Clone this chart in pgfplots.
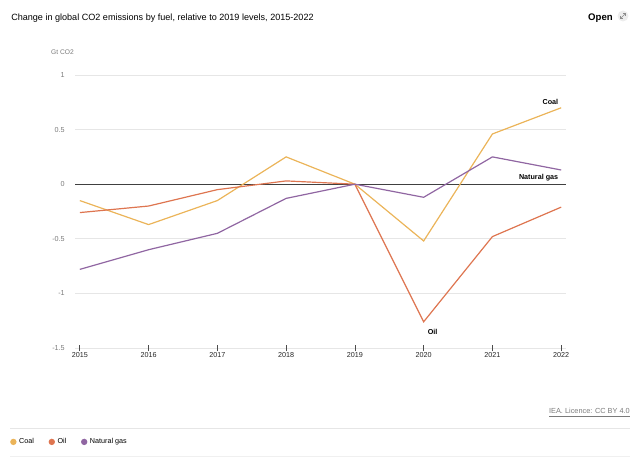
\documentclass[border=0pt]{standalone}
\usepackage{pgfplots}
\pgfplotsset{compat=1.18}
\usepackage{fontspec}
\setmainfont{Liberation Sans}
\definecolor{coal}{HTML}{EBB459}
\definecolor{oil}{HTML}{DE7550}
\definecolor{gas}{HTML}{9066A2}
\definecolor{gridgray}{HTML}{E6E6E6}
\definecolor{labelgray}{HTML}{7A7A7A}
\begin{document}
\begin{tikzpicture}[x=0.75pt,y=0.75pt]
\path[use as bounding box] (0,0) rectangle (638,459);
% header
\node[anchor=base west, inner sep=0pt, font=\fontsize{6.8}{8}\selectfont] at (11,438)
  {Change in global CO2 emissions by fuel, relative to 2019 levels, 2015-2022};
\node[anchor=base east, inner sep=0pt, font=\fontsize{7.2}{8}\selectfont\bfseries] at (613,438) {Open};
% expand icon
\fill[gray!14] (623,443) circle (5.5);
\draw[gray!90, line width=0.45pt] (620.5,440.5) -- (625.5,445.5);
\draw[gray!90, line width=0.45pt] (622.8,445.5) -- (625.5,445.5) -- (625.5,442.8);
\draw[gray!90, line width=0.45pt] (620.5,443.2) -- (620.5,440.5) -- (623.2,440.5);
\node[anchor=base east, inner sep=0pt, font=\fontsize{5}{6}\selectfont, text=labelgray] at (74,404) {Gt CO2};
% footer
\node[anchor=base east, inner sep=0pt, font=\fontsize{5.5}{6}\selectfont, text=labelgray] at (630,45)
  {\underline{IEA. Licence: CC BY 4.0}};
\draw[gridgray, line width=0.5pt] (10,31) -- (630,31);
\draw[gridgray!60, line width=0.5pt] (10,3) -- (630,3);
\begin{axis}[
  at={(56.25pt,83.25pt)}, anchor=south west,
  scale only axis, width=368.25pt, height=204.75pt,
  xmin=2014.93, xmax=2022.07, ymin=-1.5, ymax=1,
  axis line style={draw=none},
  xtick={2015,...,2022},
  ytick={-1.5,-1,-0.5,0,0.5,1},
  yticklabels={-1.5,-1,-0.5,0,0.5,1},
  ymajorgrids, grid style={gridgray, line width=0.5pt},
  xtick pos=bottom, ytick pos=left,
  tick align=center, major tick length=5pt,
  xtick style={black!70, line width=0.5pt},
  ytick style={draw=none},
  /pgf/number format/1000 sep={},
  /pgf/number format/assume math mode=true,
  xticklabel style={font=\fontsize{5.4}{6}\selectfont, text=black!85, inner sep=1pt},
  yticklabel style={font=\fontsize{5.4}{6}\selectfont, text=labelgray, anchor=east, inner sep=0pt, xshift=-5pt},
  clip=false,
  legend columns=-1,
  legend style={at={(-0.1324,-0.344)}, anchor=west, draw=none, fill=none,
    font=\fontsize{5.4}{6}\selectfont, inner sep=0pt,
    /tikz/every even column/.append style={column sep=9pt}},
  legend image code/.code={\fill (0pt,0pt) circle (1.9pt);},
]
\addplot[forget plot, black!75, line width=0.6pt] coordinates {(2014.93,0) (2022.07,0)};
\addplot[coal, line width=0.9pt] coordinates {
  (2015,-0.15) (2016,-0.37) (2017,-0.15) (2018,0.25)
  (2019,0) (2020,-0.52) (2021,0.46) (2022,0.70)};
\addplot[oil, line width=0.9pt] coordinates {
  (2015,-0.26) (2016,-0.20) (2017,-0.05) (2018,0.03)
  (2019,0) (2020,-1.26) (2021,-0.48) (2022,-0.21)};
\addplot[gas, line width=0.9pt] coordinates {
  (2015,-0.78) (2016,-0.60) (2017,-0.45) (2018,-0.13)
  (2019,0) (2020,-0.12) (2021,0.25) (2022,0.13)};
\legend{Coal, Oil, Natural gas}
\node[anchor=south east, inner sep=1pt, font=\fontsize{5.4}{6}\selectfont\bfseries] at (axis cs:2021.98,0.71) {Coal};
\node[anchor=south east, inner sep=1pt, font=\fontsize{5.4}{6}\selectfont\bfseries] at (axis cs:2021.98,0.01) {Natural gas};
\node[anchor=north, inner sep=1pt, font=\fontsize{5.4}{6}\selectfont\bfseries] at (axis cs:2020.13,-1.31) {Oil};
\end{axis}
\end{tikzpicture}
\end{document}
